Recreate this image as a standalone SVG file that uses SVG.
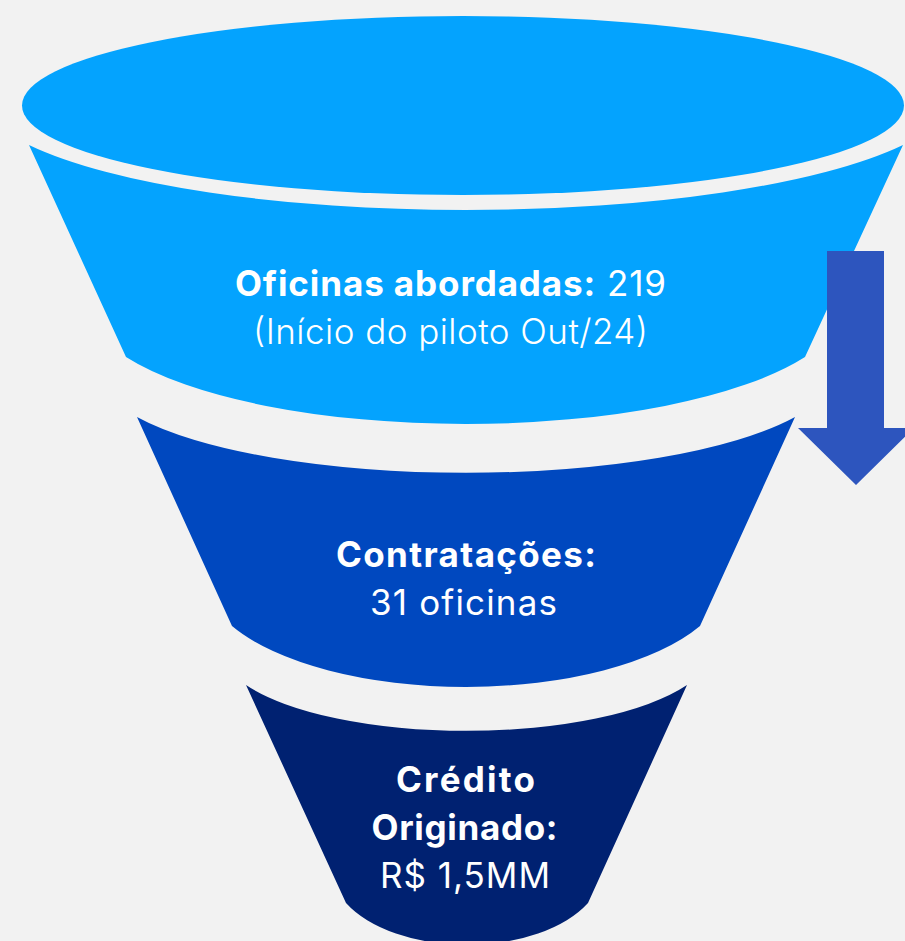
<svg xmlns="http://www.w3.org/2000/svg" width="905" height="941" viewBox="0 0 905 941">
  <style>
    .t { font-family: Inter, "Liberation Sans", sans-serif; font-size: 35px; fill: #FFFFFF; text-anchor: middle; }
    .b { font-weight: 700; }
    .r { font-weight: 400; }
    .l { font-weight: 300; }
  </style>
  <rect width="905" height="941" fill="#F2F2F2"/>
  <g id="stage1">
    <ellipse cx="463" cy="105.5" rx="441" ry="89.5" fill="#04A3FE"/>
    <path d="M29,145 A489,118 0 0 0 903,145 L805,357 A380,121.6 0 0 1 126,357 Z" fill="#04A3FE"/>
    <text class="t" x="450.5" y="296" textLength="431" lengthAdjust="spacing"><tspan class="b">Oficinas abordadas:</tspan><tspan class="r"> 219</tspan></text>
    <text class="t l" x="450.5" y="344" textLength="395" lengthAdjust="spacing">(Início do piloto Out/24)</text>
  </g>
  <g id="stage2">
    <path d="M137,417 A368.5,101.6 0 0 0 795,417 L700,626 A262,110.7 0 0 1 232,626 Z" fill="#0048BF"/>
    <text class="t b" x="466" y="567" textLength="260" lengthAdjust="spacing">Contratações:</text>
    <text class="t r" x="463.5" y="615" textLength="187" lengthAdjust="spacing">31 oficinas</text>
  </g>
  <g id="stage3">
    <path d="M246,685 A247,83.5 0 0 0 687,685 L588,903 A135.5,76 0 0 1 346,903 Z" fill="#002171"/>
    <text class="t b" x="465.5" y="792" textLength="139" lengthAdjust="spacing">Crédito</text>
    <text class="t b" x="464.5" y="840" textLength="186" lengthAdjust="spacing">Originado:</text>
    <text class="t r" x="465" y="888" textLength="170" lengthAdjust="spacing">R$ 1,5MM</text>
  </g>
  <g id="connectors">
    <polygon points="827,251 884,251 884,428 914,428 856,485 798,428 827,428" fill="#2D55BE"/>
  </g>
</svg>
